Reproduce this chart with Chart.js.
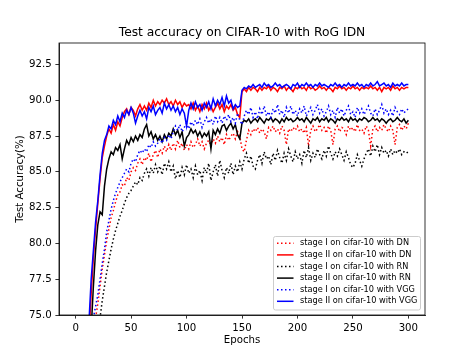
<!DOCTYPE html>
<html>
<head>
<meta charset="utf-8">
<script src="https://cdn.jsdelivr.net/npm/chart.js@4.4.0/dist/chart.umd.min.js"></script>
<style>
  html, body { margin: 0; padding: 0; background: #fff; }
  canvas { display: block; }
</style>
</head>
<body>
<canvas id="grafico" width="472" height="354"></canvas>
<script>
var titolo = 'Test accuracy on CIFAR-10 with RoG IDN';
var etichette = ['stage I on cifar-10 with DN', 'stage II on cifar-10 with DN',
    'stage I on cifar-10 with RN', 'stage II on cifar-10 with RN',
    'stage I on cifar-10 with VGG', 'stage II on cifar-10 with VGG'];
var tickX = [0, 50, 100, 150, 200, 250, 300];
var tickY = [75.0, 77.5, 80.0, 82.5, 85.0, 87.5, 90.0, 92.5];

// epoche (una ogni due)
var epoche = [
    2, 4, 6, 8, 10, 12, 14, 16, 18, 20,
    22, 24, 26, 28, 30, 32, 34, 36, 38, 40,
    42, 44, 46, 48, 50, 52, 54, 56, 58, 60,
    62, 64, 66, 68, 70, 72, 74, 76, 78, 80,
    82, 84, 86, 88, 90, 92, 94, 96, 98, 100,
    102, 104, 106, 108, 110, 112, 114, 116, 118, 120,
    122, 124, 126, 128, 130, 132, 134, 136, 138, 140,
    142, 144, 146, 148, 150, 152, 154, 156, 158, 160,
    162, 164, 166, 168, 170, 172, 174, 176, 178, 180,
    182, 184, 186, 188, 190, 192, 194, 196, 198, 200,
    202, 204, 206, 208, 210, 212, 214, 216, 218, 220,
    222, 224, 226, 228, 230, 232, 234, 236, 238, 240,
    242, 244, 246, 248, 250, 252, 254, 256, 258, 260,
    262, 264, 266, 268, 270, 272, 274, 276, 278, 280,
    282, 284, 286, 288, 290, 292, 294, 296, 298, 300
];

var dnStage1 = [
    10, 20, 32, 44, 54, 62, 68, 72.5, 74.8, 75.8,
    77.0, 78.2, 79.2, 80.2, 81.0, 81.8, 82.3, 82.9, 83.4, 83.6,
    84.1, 84.0, 84.6, 84.4, 85.0, 85.3, 85.1, 85.6, 85.9, 85.5,
    86.0, 85.8, 86.3, 85.7, 86.2, 86.5, 86.0, 86.6, 86.3, 86.8,
    86.4, 86.9, 86.5, 87.0, 86.6, 87.2, 86.7, 87.0, 86.5, 86.9,
    86.6, 87.1, 86.7, 86.9, 87.3, 86.8, 87.1, 86.6, 87.0, 87.2,
    86.8, 87.3, 87.0, 87.5, 87.1, 87.4, 86.9, 87.6, 87.2, 87.5,
    87.7, 87.3, 87.8, 87.5, 86.6, 86.4, 87.2, 87.9, 87.6, 88.0,
    87.8, 88.1, 87.7, 88.0, 87.8, 87.3, 88.1, 87.9, 88.2, 87.8,
    88.0, 87.7, 88.2, 87.9, 86.9, 88.0, 87.8, 88.1, 87.9, 88.2,
    87.8, 88.0, 87.7, 88.1, 86.8, 87.9, 88.2, 87.8, 88.0, 88.3,
    87.9, 88.1, 87.7, 88.2, 87.9, 86.9, 88.0, 88.2, 87.8, 88.1,
    88.0, 87.6, 88.2, 87.9, 88.1, 87.8, 88.3, 87.9, 88.0, 87.7,
    88.2, 87.9, 86.8, 88.0, 88.2, 87.8, 88.1, 87.9, 88.3, 88.0,
    87.8, 88.2, 87.9, 86.9, 88.1, 88.3, 87.9, 88.2, 88.0, 88.4
];

var dnStage2 = [
    15, 30, 45, 57, 67, 73.5, 76.5, 79, 81, 82.8,
    84.5, 86.0, 86.8, 87.5, 88.0, 87.7, 88.3, 87.9, 88.5, 88.2,
    88.8, 89.2, 89.4, 89.0, 89.5, 89.3, 88.9, 89.4, 89.7, 89.3,
    89.6, 89.3, 89.8, 89.5, 90.0, 89.6, 89.9, 89.7, 90.0, 89.8,
    90.1, 89.7, 89.9, 89.6, 90.0, 89.7, 89.9, 89.5, 89.8, 89.6,
    89.7, 89.4, 89.8, 89.3, 89.6, 89.2, 89.7, 89.4, 89.8, 89.3,
    89.6, 89.2, 89.5, 89.8, 89.4, 89.7, 89.2, 89.6, 89.4, 89.7,
    89.3, 89.5, 89.0, 88.8, 90.6, 90.8, 90.6, 90.9, 90.7, 90.9,
    90.8, 90.6, 90.9, 90.7, 90.9, 90.8, 91.0, 90.7, 90.9, 90.8,
    90.6, 90.9, 90.8, 91.0, 90.7, 90.9, 90.8, 90.6, 90.9, 90.8,
    91.0, 90.8, 90.9, 90.7, 91.0, 90.8, 90.9, 90.7, 90.8, 91.0,
    90.8, 90.9, 90.7, 90.9, 90.8, 90.6, 90.9, 90.8, 91.0, 90.8,
    90.9, 90.7, 90.9, 90.8, 91.0, 90.8, 90.9, 90.7, 90.9, 90.8,
    90.9, 90.8, 91.0, 90.8, 90.9, 90.7, 90.9, 90.6, 90.9, 90.8,
    90.9, 90.7, 91.0, 90.8, 90.9, 90.7, 90.9, 90.8, 90.9, 90.9
];

var rnStage1 = [
    8, 16, 26, 36, 46, 54, 61, 66, 70, 73,
    74.8, 76.0, 77.0, 78.0, 78.8, 79.6, 80.3, 80.9, 81.4, 81.9,
    82.3, 82.8, 83.2, 83.5, 83.7, 84.0, 84.3, 84.1, 84.6, 84.4,
    84.9, 85.2, 84.7, 85.3, 84.9, 85.5, 85.0, 85.4, 84.8, 85.6,
    85.2, 85.7, 85.0, 85.4, 84.5, 85.1, 84.6, 85.3, 84.8, 85.5,
    84.9, 85.2, 84.6, 85.4, 84.8, 85.1, 84.4, 85.3, 84.9, 85.6,
    84.4, 85.0, 85.5, 84.7, 85.8, 85.1, 84.6, 85.3, 84.9, 85.6,
    84.8, 85.4, 85.0, 85.7, 85.2, 85.9, 86.3, 85.6, 86.1, 85.4,
    85.2, 85.8, 86.2, 85.6, 86.4, 85.9, 86.1, 85.5, 86.3, 85.8,
    86.5, 86.0, 85.6, 86.3, 85.8, 86.6, 86.1, 85.7, 86.4, 85.9,
    86.2, 85.6, 86.5, 86.0, 86.7, 85.8, 86.3, 86.0, 86.6, 86.2,
    85.9, 86.5, 86.1, 86.8, 86.3, 85.9, 86.4, 86.1, 86.6, 86.2,
    85.8, 86.4, 86.0, 85.5, 85.3, 85.6, 86.2, 85.8, 85.4, 85.9,
    86.3, 86.6, 86.1, 86.8, 86.4, 86.9, 86.2, 86.7, 86.3, 86.5,
    86.1, 86.6, 86.2, 86.5, 86.3, 86.6, 86.2, 86.4, 86.3, 86.4
];

var rnStage2 = [
    12, 25, 40, 52, 62, 70, 74.0, 77.0, 79.5, 81.3,
    82.2, 82.0, 84.0, 85.2, 85.9, 86.4, 86.2, 86.7, 86.5, 86.9,
    85.9, 86.6, 87.2, 86.9, 87.4, 87.1, 87.5, 87.2, 87.6, 87.4,
    88.0, 88.3, 87.5, 87.8, 87.3, 87.6, 87.2, 87.5, 87.1, 87.6,
    87.3, 87.7, 87.5, 88.0, 87.6, 87.9, 87.4, 87.8, 86.8, 87.4,
    87.6, 88.0, 87.7, 87.9, 87.5, 87.8, 87.4, 87.7, 87.5, 87.8,
    86.6, 87.9, 87.6, 88.0, 87.7, 88.2, 88.3, 87.9, 88.2, 88.4,
    88.0, 88.3, 87.6, 87.3, 88.4, 88.6, 88.5, 88.7, 88.4, 88.6,
    88.7, 88.5, 88.8, 88.6, 88.4, 88.7, 88.6, 88.8, 88.5, 88.7,
    88.6, 88.4, 88.7, 88.5, 88.8, 88.6, 88.7, 88.5, 88.6, 88.8,
    88.6, 88.7, 88.5, 88.8, 88.6, 88.4, 88.7, 88.6, 88.8, 88.5,
    88.7, 88.6, 88.8, 88.5, 88.7, 88.6, 88.4, 88.7, 88.6, 88.8,
    88.6, 88.7, 88.5, 88.8, 88.6, 88.7, 88.5, 88.7, 88.6, 88.8,
    88.7, 88.5, 88.6, 88.8, 88.6, 88.7, 88.5, 88.7, 88.6, 88.4,
    88.6, 88.7, 88.5, 88.6, 88.8, 88.6, 88.5, 88.7, 88.4, 88.6
];

var vggStage1 = [
    15, 28, 40, 52, 62, 69, 73, 74.8, 75.6, 76.4,
    77.5, 78.6, 79.6, 80.8, 81.6, 82.4, 83.0, 83.5, 83.9, 84.3,
    84.6, 84.9, 85.2, 85.0, 85.6, 85.9, 85.7, 86.2, 86.5, 86.3,
    86.6, 86.4, 86.9, 86.7, 87.1, 86.8, 87.0, 87.3, 87.0, 87.4,
    87.2, 87.6, 87.3, 87.8, 88.2, 87.9, 88.3, 87.8, 88.1, 88.4,
    88.0, 88.5, 88.2, 88.6, 88.3, 88.7, 88.1, 88.5, 88.8, 88.4,
    88.7, 88.3, 88.9, 88.5, 88.8, 88.4, 88.9, 88.6, 89.0, 88.5,
    88.8, 88.4, 89.1, 88.6, 88.3, 88.9, 89.3, 89.0, 89.5, 88.8,
    89.2, 88.7, 89.4, 89.0, 89.6, 88.9, 89.2, 88.8, 89.4, 89.1,
    89.7, 89.0, 89.3, 88.8, 89.5, 89.1, 89.6, 89.0, 89.3, 88.9,
    89.4, 89.1, 89.6, 88.9, 89.2, 89.5, 89.0, 89.3, 89.7, 89.1,
    89.4, 88.9, 89.2, 89.6, 89.0, 89.3, 88.8, 89.5, 89.1, 89.4,
    88.9, 89.3, 89.6, 89.0, 89.2, 88.8, 89.5, 89.1, 89.4, 89.0,
    89.3, 89.6, 89.1, 88.9, 89.4, 89.0, 89.3, 89.7, 89.1, 89.4,
    89.0, 89.3, 88.9, 89.5, 89.2, 89.0, 89.4, 89.1, 89.3, 89.4
];

var vggStage2 = [
    20, 35, 48, 60, 70, 74.5, 77.5, 79.5, 81.5, 83,
    84.8, 86.3, 87.2, 87.6, 88.2, 88.0, 88.6, 88.3, 88.9, 88.5,
    89.1, 88.8, 89.3, 89.0, 89.5, 89.1, 88.4, 88.9, 89.3, 88.9,
    89.2, 88.7, 89.5, 89.2, 89.6, 89.0, 89.3, 89.5, 89.1, 89.8,
    89.4, 89.7, 89.3, 89.6, 89.2, 89.5, 89.0, 89.4, 89.1, 88.2,
    89.3, 89.8, 89.4, 89.9, 89.5, 89.7, 89.3, 89.8, 89.5, 89.9,
    89.4, 90.1, 89.6, 90.0, 89.7, 90.2, 89.6, 90.3, 89.8, 90.0,
    89.4, 89.7, 89.5, 89.6, 90.7, 90.9, 90.8, 91.0, 90.9, 91.1,
    90.9, 91.0, 91.1, 90.9, 91.2, 91.0, 91.1, 90.9, 91.0, 91.2,
    91.0, 91.1, 90.9, 91.0, 91.1, 91.0, 90.8, 91.1, 91.0, 91.2,
    90.9, 91.1, 91.0, 91.2, 91.0, 91.1, 90.9, 91.1, 91.0, 91.2,
    91.0, 91.1, 91.0, 90.9, 91.1, 91.0, 91.2, 91.0, 91.1, 90.9,
    91.1, 91.0, 91.2, 91.0, 91.1, 91.0, 91.2, 91.0, 91.1, 90.9,
    91.1, 91.0, 91.2, 91.0, 91.1, 91.3, 91.0, 91.1, 91.2, 91.0,
    91.1, 90.9, 91.2, 91.0, 91.1, 91.0, 91.2, 91.0, 91.1, 91.1
];

var serie = [dnStage1, dnStage2, rnStage1, rnStage2, vggStage1, vggStage2];
var colori = ['red', 'red', 'black', 'black', 'blue', 'blue'];
var tratteggi = [[1.5, 2.5], [], [1.5, 2.5], [], [1.5, 2.5], []];

var font = "'DejaVu Sans', sans-serif";

// costruisco i dataset per chart.js
var datasets = [];
for (var i = 0; i < serie.length; i++) {
    var punti = [];
    for (var k = 0; k < epoche.length; k++) {
        punti.push({ x: epoche[k], y: serie[i][k] });
    }
    datasets.push({
        label: etichette[i],
        data: punti,
        borderColor: colori[i],
        borderWidth: 1.5,
        borderDash: tratteggi[i],
        pointRadius: 0,
        fill: false,
        tension: 0,
        order: serie.length - 1 - i // l'ultimo sta sopra, come in matplotlib
    });
}

// riquadro, titolo e legenda dentro l'area del grafico
var extra = {
    id: 'extra',
    afterDraw: function (chart) {
        var ctx = chart.ctx;
        var a = chart.chartArea;
        ctx.save();
        ctx.strokeStyle = '#000';
        ctx.lineWidth = 0.8;
        ctx.strokeRect(a.left, a.top, a.right - a.left, a.bottom - a.top);

        ctx.fillStyle = '#000';
        ctx.font = '12.3px ' + font;
        ctx.textAlign = 'center';
        ctx.textBaseline = 'alphabetic';
        ctx.fillText(titolo, (a.left + a.right) / 2, 36);

        // legenda
        var lx = 273.5, ly = 236.5, lw = 147, lh = 73.5;
        ctx.beginPath();
        ctx.roundRect(lx, ly, lw, lh, 2);
        ctx.fillStyle = 'rgba(255,255,255,0.8)';
        ctx.fill();
        ctx.strokeStyle = '#cccccc';
        ctx.lineWidth = 1;
        ctx.stroke();
        ctx.font = '8.2px ' + font;
        ctx.textAlign = 'left';
        ctx.textBaseline = 'middle';
        for (var j = 0; j < etichette.length; j++) {
            var yy = 243.3 + j * 11.6;
            ctx.beginPath();
            ctx.setLineDash(tratteggi[j]);
            ctx.strokeStyle = colori[j];
            ctx.lineWidth = 1.5;
            ctx.moveTo(277, yy);
            ctx.lineTo(293.5, yy);
            ctx.stroke();
            ctx.setLineDash([]);
            ctx.fillStyle = '#000';
            ctx.fillText(etichette[j], 300, yy);
        }
        ctx.restore();
    }
};

var grafico = new Chart(document.getElementById('grafico'), {
    type: 'line',
    data: { datasets: datasets },
    plugins: [extra],
    options: {
        responsive: false,
        animation: false,
        layout: { padding: { top: 43, right: 47, left: 0, bottom: 0 } },
        plugins: {
            legend: { display: false },
            title: { display: false },
            tooltip: { enabled: false }
        },
        scales: {
            x: {
                type: 'linear',
                min: -15,
                max: 315,
                afterFit: function (s) { s.height = 39; },
                afterBuildTicks: function (s) {
                    s.ticks = tickX.map(function (v) { return { value: v }; });
                },
                grid: { drawOnChartArea: false, drawTicks: true, tickLength: 3.6, tickColor: '#000', tickWidth: 0.8 },
                border: { display: true, color: '#000', width: 0.8 },
                ticks: { color: '#000', font: { family: font, size: 10.2 }, padding: 3.6, maxRotation: 0 },
                title: { display: true, text: 'Epochs', color: '#000', font: { family: font, size: 10.2 }, padding: { top: 0, bottom: 7.2 } }
            },
            y: {
                type: 'linear',
                min: 75,
                max: 94,
                afterFit: function (s) { s.width = 59; },
                afterBuildTicks: function (s) {
                    s.ticks = tickY.map(function (v) { return { value: v }; });
                },
                grid: { drawOnChartArea: false, drawTicks: true, tickLength: 3.6, tickColor: '#000', tickWidth: 0.8 },
                border: { display: true, color: '#000', width: 0.8 },
                ticks: {
                    color: '#000', font: { family: font, size: 10.2 }, padding: 3.6,
                    callback: function (v) { return v.toFixed(1); }
                },
                title: { display: true, text: 'Test Accuracy(%)', color: '#000', font: { family: font, size: 10.2 }, padding: { top: 14.5, bottom: 0 } }
            }
        }
    }
});
</script>
</body>
</html>
